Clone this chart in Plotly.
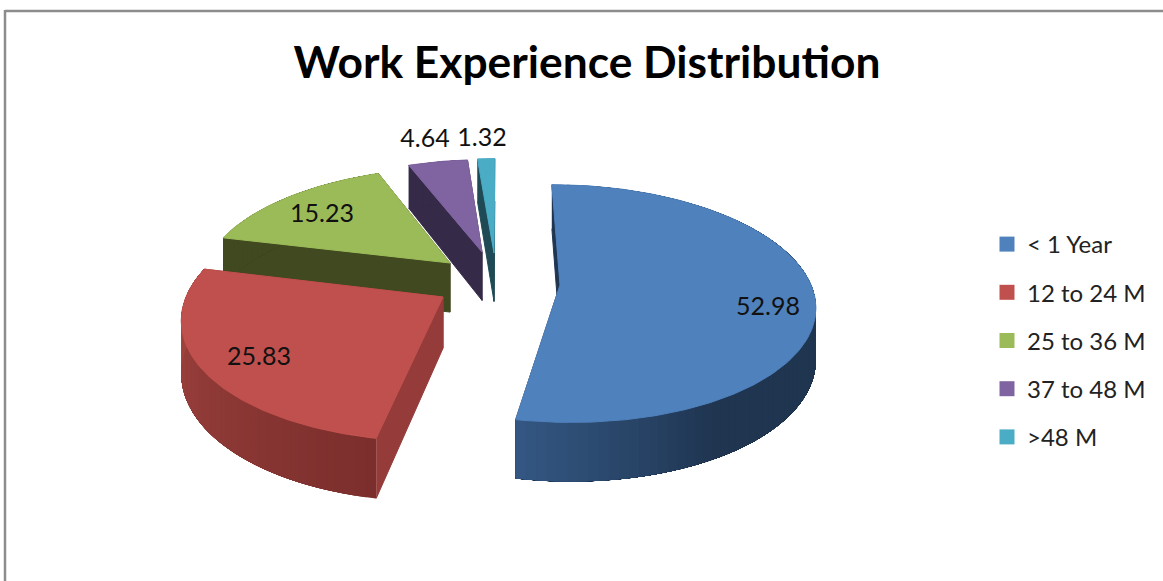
import math
import plotly.graph_objects as go

# data
categories = ["< 1 Year", "12 to 24 M", "25 to 36 M", "37 to 48 M", ">48 M"]
values = [52.98, 25.83, 15.23, 4.64, 1.32]
title = "Work Experience Distribution"

# styling and placement (pixel space of the page)
W, H = 1163, 581
top_colors = ["#4f81bd", "#c0504d", "#9bbb59", "#8064a2", "#4bacc6"]
edge_colors = ["#1f3550", "#953b39", "#40491f", "#352a47", "#1f4a55"]
wall_from = [(0x33, 0x57, 0x82), (0x7a, 0x2e, 0x2c), (0x40, 0x49, 0x1f), (0x35, 0x2a, 0x47), (0x1f, 0x4a, 0x55)]
wall_to = [(0x1f, 0x35, 0x50), (0xa8, 0x47, 0x43), (0x40, 0x49, 0x1f), (0x35, 0x2a, 0x47), (0x1f, 0x4a, 0x55)]
wall_span = [(190, 150), (190, 285), (0, 1), (0, 1), (0, 1)]
apexes = [(560, 285), (443, 297), (450, 263), (482, 252), (494, 253)]
scale_x = [0.977, 1.0, 0.95, 0.92, 0.94]
scale_y = [1.0, 1.05, 0.95, 0.92, 0.94]
label_xy = [(768, 309), (259, 359), (322, 216), (425, 141), (482, 140)]
Rx, Ry, K, VX = 257.0, 116.0, 0.156, 500.0
paint_order = [4, 3, 2, 1, 0]


def top_pt(i, theta):
    ax, ay = apexes[i]
    u, v = math.sin(theta), math.cos(theta)
    s = 1.0 / (1.0 + K * v)
    return VX + (ax - VX + Rx * scale_x[i] * u) * s, ay - Ry * scale_y[i] * v * s


def drop(y):
    return 43.0 + 0.063 * (y - 167.0)


def poly(xs, ys, fill, stroke=1):
    return go.Scatter(x=xs, y=ys, mode="lines", fill="toself", fillcolor=fill,
                      line=dict(color=fill, width=stroke), hoverinfo="skip", showlegend=False)


fig = go.Figure()
total = sum(values)
starts = [sum(values[:i]) / total * 2 * math.pi for i in range(len(values))]
ends = [sum(values[:i + 1]) / total * 2 * math.pi for i in range(len(values))]

for i in paint_order:
    a0, a1 = starts[i], ends[i]
    ax, ay = apexes[i]
    # straight walls
    for th in (a1, a0):
        px, py = top_pt(i, th)
        fig.add_trace(poly([px, ax, ax, px], [py, ay, ay + drop(ay), py + drop(py)], edge_colors[i]))
    # curved outer wall: shaded strips, each running on to the end of the wall
    # so the next strip paints over it and no seam is left
    n = max(2, int(math.degrees(a1 - a0) / 2))
    d0, d1 = wall_span[i]
    for j in range(n):
        t0 = a0 + (a1 - a0) * j / n
        deg = math.degrees(t0 + (a1 - a0) / n / 2)
        f = min(1.0, max(0.0, (deg - d0) / (d1 - d0)))
        c = tuple(round(wall_from[i][k] + (wall_to[i][k] - wall_from[i][k]) * f) for k in range(3))
        ts = [t0 + (a1 - t0) * q / 40 for q in range(41)]
        upper = [top_pt(i, t) for t in ts]
        xs = [p[0] for p in upper] + [p[0] for p in reversed(upper)]
        ys = [p[1] for p in upper] + [p[1] + drop(p[1]) for p in reversed(upper)]
        fig.add_trace(poly(xs, ys, "rgb(%d,%d,%d)" % c, stroke=0))
    # top face
    m = max(6, int(math.degrees(a1 - a0)))
    pts = [top_pt(i, a0 + (a1 - a0) * j / m) for j in range(m + 1)]
    fig.add_trace(poly([ax] + [p[0] for p in pts] + [ax], [ay] + [p[1] for p in pts] + [ay], top_colors[i]))

# labels
fig.add_trace(go.Scatter(x=[p[0] for p in label_xy], y=[p[1] for p in label_xy],
                         mode="text", text=["%.2f" % v for v in values],
                         textfont=dict(family="Lato", size=25, color="#111111"),
                         hoverinfo="skip", showlegend=False))

# legend
for i, name in enumerate(categories):
    fig.add_trace(go.Scatter(x=[None], y=[None], mode="markers", name=name, legendgroup=name,
                             marker=dict(symbol="square", size=15, color=top_colors[i])))

fig.update_layout(
    width=W, height=H, autosize=False,
    margin=dict(l=0, r=0, t=0, b=0),
    paper_bgcolor="white", plot_bgcolor="white",
    xaxis=dict(range=[0, W], visible=False, fixedrange=True),
    yaxis=dict(range=[H, 0], visible=False, fixedrange=True),
    title=dict(text="<b>%s</b>" % title, x=587 / W, xanchor="center", y=1 - 62 / H, yanchor="middle",
               font=dict(family="Lato", size=44.3, color="black")),
    legend=dict(x=987 / W, y=1 - 222 / H, xanchor="left", yanchor="top", tracegroupgap=14,
                font=dict(family="Lato", size=24, color="#222222"), bgcolor="rgba(0,0,0,0)"),
    shapes=[
        dict(type="line", xref="paper", yref="paper", x0=5 / W, x1=1, y0=1 - 11 / H, y1=1 - 11 / H,
             line=dict(color="#8c8c8c", width=2.5)),
        dict(type="line", xref="paper", yref="paper", x0=5 / W, x1=5 / W, y0=0, y1=1 - 10 / H,
             line=dict(color="#8c8c8c", width=2.5)),
    ],
)
fig.write_html("out.html", config={"displayModeBar": False},
               post_script="document.body.style.margin='0';")
